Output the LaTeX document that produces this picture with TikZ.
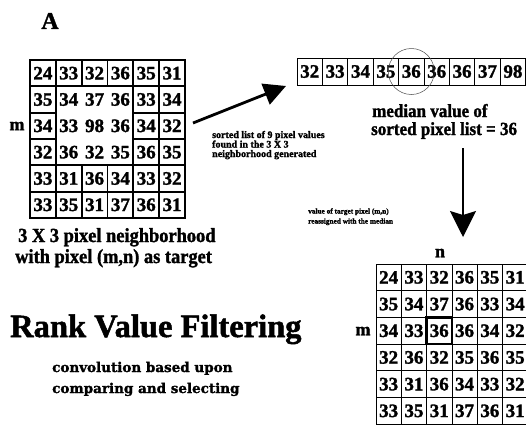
\documentclass[tikz,border=0pt]{standalone}
\usepackage{fontspec}
\setmainfont{Liberation Serif}[BoldFeatures={FakeBold=1.5}]
\newfontfamily\condserif{Liberation Serif}[FakeStretch=0.92, BoldFeatures={FakeBold=1.5}]
\newfontfamily\wideserif{DejaVu Serif}[BoldFeatures={FakeBold=1.5}]
\usetikzlibrary{arrows.meta}
\begin{document}
\begin{tikzpicture}[x=1pt,y=-1pt,
  num/.style={inner sep=0pt, outer sep=0pt, font=\fontsize{19}{19}\selectfont\bfseries},
  cellL/.style={num, draw, line width=1.8pt, minimum width=25.83pt, minimum height=26.33pt},
  cellLin/.style={num, minimum width=25.83pt, minimum height=26.33pt},
  cellS/.style={num, draw, line width=0.8pt, minimum width=25.4pt, minimum height=27pt},
  cellR/.style={num, draw, line width=0.8pt, minimum width=25.3pt, minimum height=26.7pt},
  captxt/.style={inner sep=0pt, anchor=base west, font=\fontsize{20}{20}\selectfont\condserif\bfseries},
  medtxt/.style={inner sep=0pt, anchor=base west, font=\fontsize{18.5}{18.5}\selectfont\condserif\bfseries},
  smalltxt/.style={inner sep=0pt, anchor=base west, font=\fontsize{10}{10}\selectfont\bfseries},
  tinytxt/.style={inner sep=0pt, anchor=base west, font=\fontsize{7.3}{7.3}\selectfont\bfseries},
  subtxt/.style={inner sep=0pt, anchor=base west, font=\fontsize{13.5}{13.5}\selectfont\wideserif\bfseries},
  lbl/.style={inner sep=0pt, font=\fontsize{18}{18}\selectfont\bfseries},
  bigarrow/.style={line width=2.8pt, -{Triangle[length=22pt,width=22pt]}},
  downarrow/.style={line width=1.4pt, -{Stealth[length=26pt,width=26pt,inset=4pt]}}
]
\path[use as bounding box, fill=white] (0,0) rectangle (526,424);

% title
\node[inner sep=0pt, font=\fontsize{24}{24}\selectfont\bfseries] (title) at (50,21) {A};

% left grid
\foreach \rowvals [count=\r] in {{24,33,32,36,35,31},{35,34,37,36,33,34},{34,33,98,36,34,32},{32,36,32,35,36,35},{33,31,36,34,33,32},{33,35,31,37,36,31}} {
  \foreach \v [count=\c] in \rowvals {
    \pgfmathtruncatemacro\inn{(\r>1)*(\r<5)*(\c>1)*(\c<5)}
    \ifnum\inn=1
      \node[cellLin] (L\r\c) at ({30+25.83*(\c-0.5)},{60+26.33*(\r-0.5)}) {\v};
    \else
      \node[cellL] (L\r\c) at ({30+25.83*(\c-0.5)},{60+26.33*(\r-0.5)}) {\v};
    \fi
  }
}
\draw[line width=1.8pt] (L22.north west) rectangle (L44.south east);
\draw[line width=2.8pt] (L11.north west) rectangle (L66.south east);
\node[lbl] (mL) at (17,126) {m};

\node[captxt] (cap1) at (18,242) {3 X 3 pixel neighborhood};
\node[captxt] (cap2) at (15,263) {with pixel (m,n) as target};

% sorted list
\foreach \v [count=\c] in {32,33,34,35,36,36,36,37,98} {
  \node[cellS] (S\c) at ({297+25.4*(\c-0.5)},71.5) {\v};
}
\node[draw=black!70, line width=0.5pt, circle, minimum size=46pt, inner sep=0pt] (medc) at (S5) {};

\node[medtxt] (med1) at (372,117) {median value of};
\node[medtxt] (med2) at (371,135) {sorted pixel list = 36};

% arrow 1
\coordinate (a1s) at (193,123);
\coordinate (a1e) at (286,86);
\draw[bigarrow] (a1s) -- (a1e);
\node[smalltxt] (s1) at (212,138) {sorted list of 9 pixel values};
\node[smalltxt] (s2) at (212,147.5) {found in the 3 X 3};
\node[smalltxt] (s3) at (212,157) {neighborhood generated};

% arrow 2
\coordinate (a2s) at (463,148);
\coordinate (a2e) at (463,237);
\draw[downarrow] (a2s) -- (a2e);
\node[tinytxt] (t1) at (308,213.5) {value of target pixel (m,n)};
\node[tinytxt] (t2) at (308,223.5) {reassigned with the median};

% right grid
\begin{scope}
\clip (0,0) rectangle (526,424);
\foreach \rowvals [count=\r] in {{24,33,32,36,35,31},{35,34,37,36,33,34},{34,33,36,36,34,32},{32,36,32,35,36,35},{33,31,36,34,33,32},{33,35,31,37,36,31}} {
  \foreach \v [count=\c] in \rowvals {
    \node[cellR] (R\r\c) at ({376+25.3*(\c-0.5)},{264+26.7*(\r-0.5)}) {\v};
  }
}
\draw[line width=2.4pt] (R33.north west) rectangle (R33.south east);
\end{scope}
\node[lbl] (nR) at (440,253) {n};
\node[lbl] (mR) at (363,331) {m};

% bottom-left titles
\node[inner sep=0pt, anchor=base west, font=\fontsize{32.5}{32.5}\selectfont\bfseries] (rvf) at (10,337) {Rank Value Filtering};
\node[subtxt] (sub1) at (52,372) {convolution based upon};
\node[subtxt] (sub2) at (52,393) {comparing and selecting};
\end{tikzpicture}
\end{document}
